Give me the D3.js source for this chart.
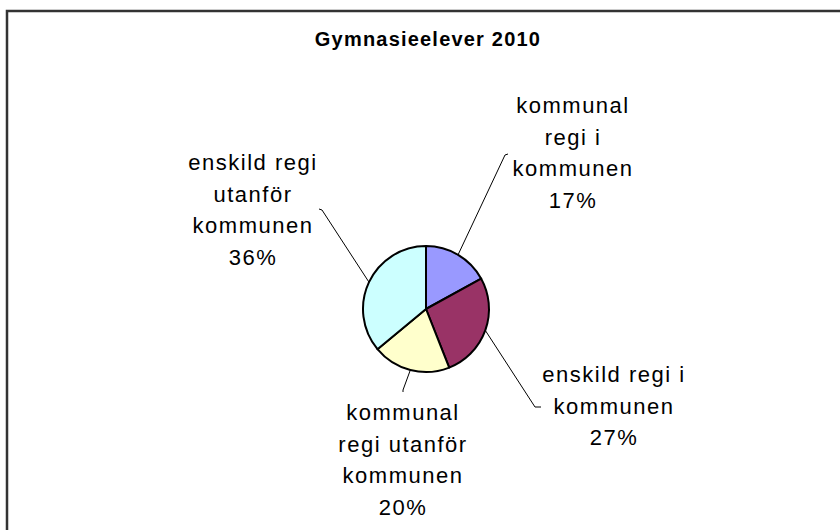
<!DOCTYPE html>
<html>
<head>
<meta charset="utf-8">
<script src="https://cdn.jsdelivr.net/npm/d3@7"></script>
<style>
  html, body { margin: 0; padding: 0; background: #fff; }
  svg { display: block; }
  text { font-family: "Liberation Sans", Arial, sans-serif; fill: #000; }
</style>
</head>
<body>
<svg id="chart"></svg>
<script>
const title = 'Gymnasieelever 2010';
const categories = [
    ['kommunal', 'regi i', 'kommunen'],
    ['enskild regi i', 'kommunen'],
    ['kommunal', 'regi utanför', 'kommunen'],
    ['enskild regi', 'utanför', 'kommunen'],
];
const values = [17, 27, 20, 36];
const colors = ['#9999ff', '#993366', '#ffffcc', '#ccffff'];

// label layout, relative to the pie centre: leader end, tick direction, text block
const labelLayout = [
    { end: [79, -154], tick: [3, -1], x: 147, y: -196 },
    { end: [109, 98], tick: [6, 0], x: 188, y: 73 },
    { end: [-23, 81], tick: [0, 2], x: -23, y: 111 },
    { end: [-104, -99], tick: [-3, -1], x: -173, y: -139 },
];

const width = 840;
const height = 530;
const cx = 426;
const cy = 309;
const radius = 63;
const lineHeight = 31.5;

const svg = d3.select('#chart')
    .attr('width', width)
    .attr('height', height);

// chart area border (runs off the right and bottom edges)
svg.append('rect')
    .attr('x', 7)
    .attr('y', 11)
    .attr('width', width)
    .attr('height', height)
    .attr('fill', '#fff')
    .attr('stroke', '#333')
    .attr('stroke-width', 2.5);

svg.append('text')
    .attr('x', 428)
    .attr('y', 45.5)
    .attr('text-anchor', 'middle')
    .attr('font-size', 20)
    .attr('font-weight', 'bold')
    .attr('letter-spacing', 1.2)
    .text(title);

const total = d3.sum(values);
const pie = d3.pie().sort(null).value(d => d)(values);
const arc = d3.arc().innerRadius(0).outerRadius(radius);

const g = svg.append('g')
    .attr('transform', `translate(${cx},${cy})`);

g.selectAll('path.slice')
    .data(pie)
    .join('path')
    .attr('class', 'slice')
    .attr('d', arc)
    .attr('fill', (d, i) => colors[i])
    .attr('stroke', '#000')
    .attr('stroke-width', 2)
    .attr('stroke-linejoin', 'round');

// leader lines from the slice mid-angle on the rim to the label
g.selectAll('path.leader')
    .data(pie)
    .join('path')
    .attr('class', 'leader')
    .attr('fill', 'none')
    .attr('stroke', '#000')
    .attr('stroke-width', 1)
    .attr('d', (d, i) => {
        const a = (d.startAngle + d.endAngle) / 2;
        const start = [radius * Math.sin(a), -radius * Math.cos(a)];
        const l = labelLayout[i];
        const tickEnd = [l.end[0] + l.tick[0], l.end[1] + l.tick[1]];
        return d3.line()([start, l.end, tickEnd]);
    });

const labels = g.selectAll('text.label')
    .data(pie)
    .join('text')
    .attr('class', 'label')
    .attr('text-anchor', 'middle')
    .attr('font-size', 22)
    .attr('letter-spacing', 1.5);

labels.each(function (d, i) {
    const l = labelLayout[i];
    const lines = categories[i].concat([Math.round(d.value / total * 100) + '%']);
    d3.select(this).selectAll('tspan')
        .data(lines)
        .join('tspan')
        .attr('x', l.x)
        .attr('y', (t, j) => l.y + j * lineHeight)
        .text(t => t);
});
</script>
</body>
</html>
